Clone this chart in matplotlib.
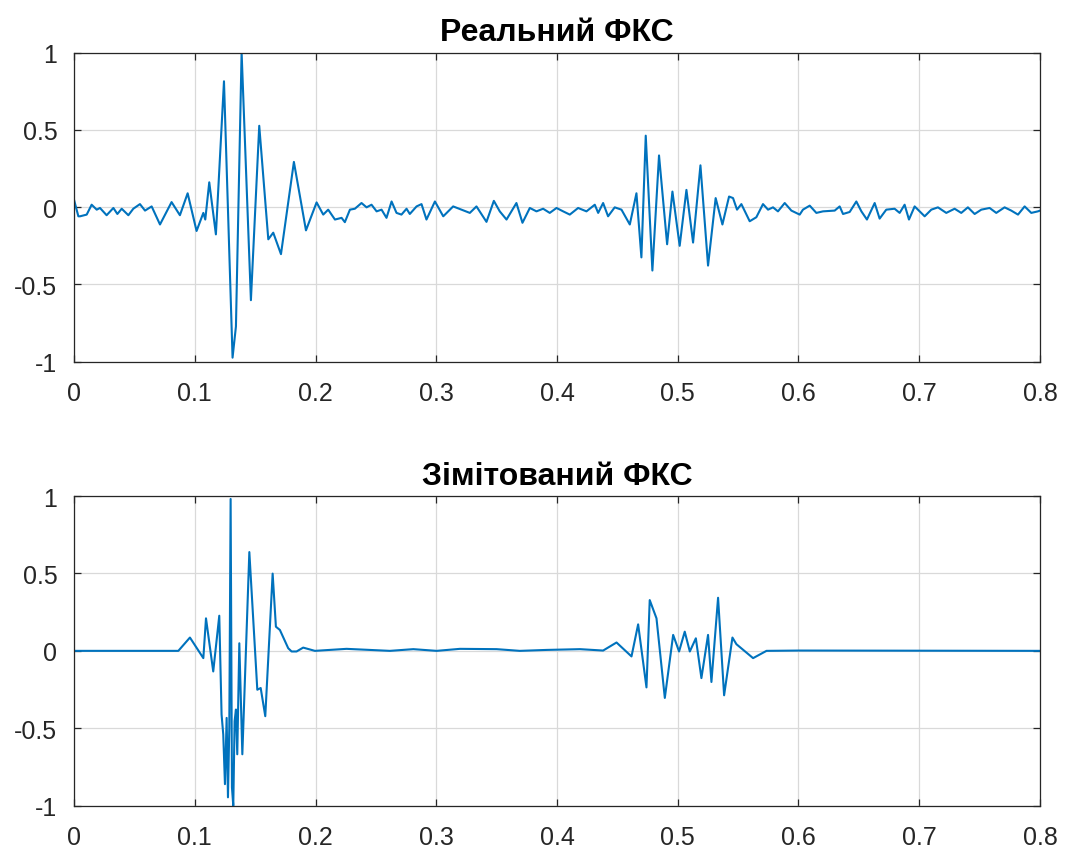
import matplotlib.pyplot as plt

plt.rcParams['font.family'] = ['Liberation Sans', 'DejaVu Sans']
plt.rcParams['axes.unicode_minus'] = False

t_real = [0.000, 0.0036, 0.0050, 0.0105, 0.0146, 0.0188, 0.0215, 0.0270, 0.0326, 0.0359,
          0.0395, 0.0450, 0.0491, 0.0546, 0.0588, 0.0643, 0.0712, 0.0808, 0.0877, 0.0941,
          0.1015, 0.1071, 0.1087, 0.1120, 0.1175, 0.1242, 0.1313, 0.1341, 0.1388, 0.1465,
          0.1534, 0.1609, 0.1650, 0.1714, 0.1821, 0.1921, 0.2009, 0.2064, 0.2105, 0.2161,
          0.2216, 0.2243, 0.2285, 0.2326, 0.2381, 0.2423, 0.2464, 0.2506, 0.2547, 0.2588,
          0.2630, 0.2671, 0.2712, 0.2754, 0.2781, 0.2837, 0.2878, 0.2919, 0.2989, 0.3058,
          0.3140, 0.3209, 0.3278, 0.3333, 0.3416, 0.3477, 0.3526, 0.3582, 0.3664, 0.3714,
          0.3775, 0.3830, 0.3885, 0.3940, 0.3996, 0.4051, 0.4106, 0.4175, 0.4244, 0.4313,
          0.4341, 0.4382, 0.4423, 0.4478, 0.4534, 0.4603, 0.4658, 0.4699, 0.4735, 0.4790,
          0.4845, 0.4912, 0.4956, 0.5016, 0.5072, 0.5127, 0.5188, 0.5251, 0.5314, 0.5370,
          0.5425, 0.5458, 0.5491, 0.5527, 0.5596, 0.5651, 0.5706, 0.5748, 0.5789, 0.5830,
          0.5886, 0.5941, 0.6010, 0.6037, 0.6093, 0.6148, 0.6203, 0.6300, 0.6341, 0.6369,
          0.6424, 0.6479, 0.6521, 0.6567, 0.6631, 0.6672, 0.6727, 0.6796, 0.6838, 0.6879,
          0.6915, 0.6962, 0.7045, 0.7100, 0.7155, 0.7224, 0.7293, 0.7348, 0.7403, 0.7459,
          0.7514, 0.7583, 0.7638, 0.7707, 0.7762, 0.7818, 0.7873, 0.7928, 0.7983, 0.8000]
real_vals = [0.047, -0.060, -0.060, -0.049, 0.015, -0.017, -0.006, -0.053, -0.006, -0.045,
             -0.011, -0.053, -0.011, 0.019, -0.023, 0.004, -0.113, 0.032, -0.053, 0.089,
             -0.155, -0.038, -0.081, 0.160, -0.177, 0.814, -0.975, -0.773, 1.000, -0.603,
             0.526, -0.209, -0.166, -0.305, 0.292, -0.151, 0.030, -0.049, -0.017, -0.081,
             -0.070, -0.098, -0.017, -0.011, 0.026, -0.002, 0.015, -0.028, -0.017, -0.070,
             0.036, -0.038, -0.049, -0.011, -0.045, 0.004, 0.019, -0.081, 0.036, -0.060,
             0.004, -0.017, -0.038, 0.004, -0.096, 0.040, -0.028, -0.081, 0.026, -0.102,
             -0.006, -0.028, -0.011, -0.038, -0.006, -0.028, -0.049, -0.006, -0.028, 0.015,
             -0.038, 0.026, -0.060, -0.002, -0.017, -0.113, 0.089, -0.326, 0.462, -0.411,
             0.334, -0.241, 0.100, -0.251, 0.111, -0.230, 0.270, -0.379, 0.058, -0.113,
             0.068, 0.058, -0.017, 0.019, -0.092, -0.066, 0.019, -0.017, -0.002, -0.028,
             0.026, -0.023, -0.049, -0.017, 0.009, -0.038, -0.028, -0.023, 0.004, -0.045,
             -0.032, 0.036, -0.028, -0.081, 0.026, -0.075, -0.017, -0.011, -0.038, 0.015,
             -0.081, 0.004, -0.060, -0.017, -0.002, -0.038, -0.011, -0.038, -0.002, -0.045,
             -0.017, -0.006, -0.038, -0.002, -0.023, -0.049, 0.004, -0.038, -0.028, -0.023]

# simulated signal
t_sim = [0.000, 0.0864, 0.0960, 0.1071, 0.1093, 0.1153, 0.1203, 0.1222, 0.1236, 0.1250,
         0.1264, 0.1275, 0.1286, 0.1297, 0.1308, 0.1319, 0.1330, 0.1341, 0.1352, 0.1369,
         0.1394, 0.1452, 0.1518, 0.1546, 0.1584, 0.1645, 0.1672, 0.1705, 0.1774, 0.1802,
         0.1843, 0.1898, 0.1995, 0.2257, 0.2616, 0.2810, 0.3003, 0.3196, 0.3500, 0.3692,
         0.3913, 0.4190, 0.4382, 0.4493, 0.4617, 0.4672, 0.4741, 0.4768, 0.4824, 0.4893,
         0.4962, 0.5011, 0.5058, 0.5100, 0.5150, 0.5196, 0.5251, 0.5279, 0.5334, 0.5384,
         0.5453, 0.5486, 0.5624, 0.5735, 0.6011, 0.8000]
sim_vals = [0.000, 0.000, 0.086, -0.047, 0.210, -0.133, 0.227, -0.411, -0.540, -0.861,
            -0.433, -0.946, -0.497, 0.981, -0.882, -1.000, -0.454, -0.379, -0.668, 0.049,
            -0.668, 0.638, -0.251, -0.240, -0.422, 0.499, 0.156, 0.135, 0.017, -0.004,
            -0.004, 0.021, 0.000, 0.013, 0.000, 0.011, 0.000, 0.013, 0.011, 0.000,
            0.006, 0.011, 0.002, 0.054, -0.036, 0.171, -0.236, 0.328, 0.210, -0.304,
            0.103, -0.004, 0.124, -0.004, 0.081, -0.176, 0.103, -0.201, 0.343, -0.287,
            0.086, 0.043, -0.047, 0.000, 0.002, 0.000]

titles = ['Реальний ФКС', 'Зімітований ФКС']
xticks = [0, 0.1, 0.2, 0.3, 0.4, 0.5, 0.6, 0.7, 0.8]
xticklabels = ['0', '0.1', '0.2', '0.3', '0.4', '0.5', '0.6', '0.7', '0.8']
yticks = [-1, -0.5, 0, 0.5, 1]
yticklabels = ['-1', '-0.5', '0', '0.5', '1']

fig = plt.figure(figsize=(10.65, 8.54), dpi=100)
ax1 = fig.add_axes([0.0695, 0.5755, 0.907, 0.3618])
ax2 = fig.add_axes([0.0695, 0.0554, 0.907, 0.3626])

for ax, t, v, title in [(ax1, t_real, real_vals, titles[0]), (ax2, t_sim, sim_vals, titles[1])]:
    ax.plot(t, v, color='#0072BD', lw=1.5, solid_joinstyle='round', solid_capstyle='round')
    ax.set_xlim(0, 0.8)
    ax.set_ylim(-1, 1)
    ax.set_xticks(xticks)
    ax.set_xticklabels(xticklabels)
    ax.set_yticks(yticks)
    ax.set_yticklabels(yticklabels)
    ax.grid(True, color='#d9d9d9', lw=0.9)
    ax.set_axisbelow(True)
    ax.tick_params(direction='in', length=5, width=0.9, colors='#262626',
                   labelsize=18, top=True, right=True, labelcolor='#262626')
    ax.tick_params(axis='x', pad=14)
    ax.tick_params(axis='y', pad=12)
    for s in ax.spines.values():
        s.set_color('#262626')
        s.set_linewidth(0.9)
    ax.set_title(title, fontsize=23, fontweight='bold', pad=9, color='black')

fig.savefig('out.png', dpi=100)
